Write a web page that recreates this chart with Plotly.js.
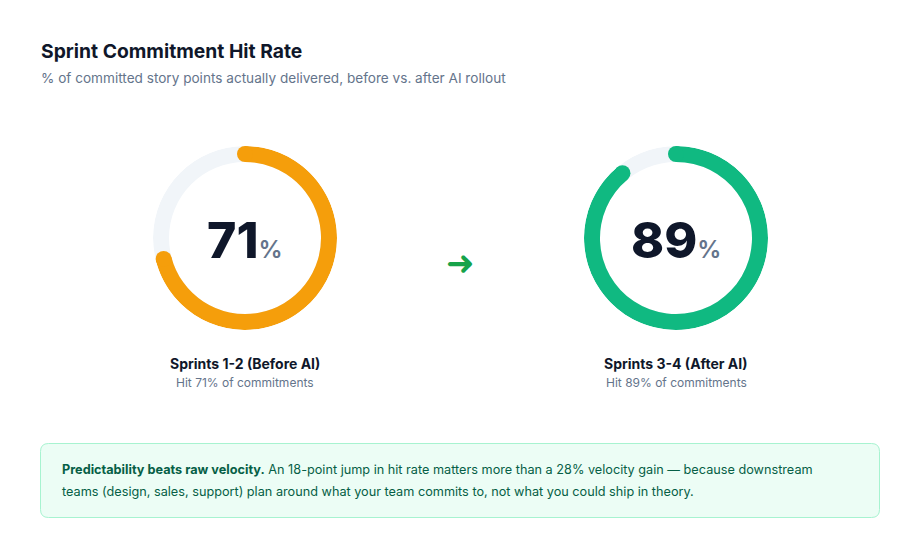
<!DOCTYPE html>
<html>
<head>
<meta charset="utf-8">
<script src="https://cdn.plot.ly/plotly-3.0.1.min.js"></script>
<style>
html,body{margin:0;padding:0;background:#fff;}
#chart{width:920px;height:558px;}
</style>
</head>
<body>
<div id="chart"></div>
<script>
// ---- data ----
const periods = ['Sprints 1-2 (Before AI)', 'Sprints 3-4 (After AI)'];
const hitRates = [71, 89];
const arcColors = ['#f59e0b', '#10b981'];
const chartTitle = 'Sprint Commitment Hit Rate';
const chartSubtitle = '% of committed story points actually delivered, before vs. after AI rollout';
const calloutBold = 'Predictability beats raw velocity.';
const calloutLine1 = ' An 18-point jump in hit rate matters more than a 28% velocity gain \u2014 because downstream';
const calloutLine2 = 'teams (design, sales, support) plan around what your team commits to, not what you could ship in theory.';

// ---- layout helpers ----
const W = 920, H = 558;
const X = px => px / W;
const Y = py => 1 - py / H;
const FONT = 'Inter, "Open Sans", sans-serif';
const TRACK = '#f1f5f9';
const centersX = [245, 676];
const centerY = 238;
const R = 92;
const HOLE = 76 / 92;
const midR = (1 + HOLE) / 2;

const data = [];
const annotations = [];
const layout = {
  width: W, height: H,
  margin: {l: 0, r: 0, t: 0, b: 0},
  paper_bgcolor: '#ffffff',
  plot_bgcolor: '#ffffff',
  showlegend: false,
  font: {family: FONT},
  shapes: [],
  annotations: annotations
};

hitRates.forEach((v, i) => {
  const cx = centersX[i];
  const dom = {x: [X(cx - R), X(cx + R)], y: [Y(centerY + R), Y(centerY - R)]};
  const pname = i === 0 ? 'polar' : 'polar' + (i + 1);
  layout[pname] = {
    domain: dom,
    bgcolor: 'rgba(0,0,0,0)',
    radialaxis: {visible: false, range: [0, 1]},
    angularaxis: {visible: false, rotation: 90, direction: 'clockwise'}
  };
  // background track (full ring)
  data.push({
    type: 'barpolar', subplot: pname,
    r: [1 - HOLE], base: [HOLE], theta: [180], width: [360],
    marker: {color: TRACK, line: {width: 0}},
    hoverinfo: 'skip'
  });
  // value arc
  data.push({
    type: 'barpolar', subplot: pname,
    r: [1 - HOLE], base: [HOLE], theta: [v * 3.6 / 2], width: [v * 3.6],
    marker: {color: arcColors[i], line: {width: 0}},
    hoverinfo: 'skip'
  });
  // rounded caps
  data.push({
    type: 'scatterpolar', subplot: pname,
    mode: 'markers',
    r: [midR, midR],
    theta: [0, v * 3.6],
    marker: {size: 16, color: arcColors[i], line: {width: 0}},
    hoverinfo: 'skip'
  });
  annotations.push({
    xref: 'paper', yref: 'paper', x: X(cx), y: Y(centerY + 2),
    xanchor: 'center', yanchor: 'middle', showarrow: false,
    text: v + '<span style="font-size:24px;color:#64748b;font-weight:600">%</span>',
    font: {family: FONT, size: 50, color: '#0f172a', weight: 800}
  });
  annotations.push({
    xref: 'paper', yref: 'paper', x: X(cx), y: Y(363),
    xanchor: 'center', yanchor: 'middle', showarrow: false,
    text: periods[i],
    font: {family: FONT, size: 14, color: '#0f172a', weight: 700}
  });
  annotations.push({
    xref: 'paper', yref: 'paper', x: X(cx), y: Y(382),
    xanchor: 'center', yanchor: 'middle', showarrow: false,
    text: 'Hit ' + v + '% of commitments',
    font: {family: FONT, size: 12, color: '#64748b'}
  });
});

// title & subtitle
annotations.push({
  xref: 'paper', yref: 'paper', x: X(38.5), y: Y(51),
  xanchor: 'left', yanchor: 'middle', showarrow: false,
  text: chartTitle,
  font: {family: FONT, size: 19.3, color: '#0f172a', weight: 700}
});
annotations.push({
  xref: 'paper', yref: 'paper', x: X(39), y: Y(78),
  xanchor: 'left', yanchor: 'middle', showarrow: false,
  text: chartSubtitle,
  font: {family: FONT, size: 13.6, color: '#64748b'}
});

// arrow
annotations.push({
  xref: 'paper', yref: 'paper', x: X(460), y: Y(263),
  xanchor: 'center', yanchor: 'middle', showarrow: false,
  text: '\u279C',
  font: {family: '"DejaVu Sans", sans-serif', size: 34, color: '#16a34a'}
});

// callout box
const bx0 = 40.5, bx1 = 879.5, by0 = 443.5, by1 = 517.5, rr = 8;
const path = 'M' + X(bx0 + rr) + ',' + Y(by0) +
  ' L' + X(bx1 - rr) + ',' + Y(by0) +
  ' Q' + X(bx1) + ',' + Y(by0) + ' ' + X(bx1) + ',' + Y(by0 + rr) +
  ' L' + X(bx1) + ',' + Y(by1 - rr) +
  ' Q' + X(bx1) + ',' + Y(by1) + ' ' + X(bx1 - rr) + ',' + Y(by1) +
  ' L' + X(bx0 + rr) + ',' + Y(by1) +
  ' Q' + X(bx0) + ',' + Y(by1) + ' ' + X(bx0) + ',' + Y(by1 - rr) +
  ' L' + X(bx0) + ',' + Y(by0 + rr) +
  ' Q' + X(bx0) + ',' + Y(by0) + ' ' + X(bx0 + rr) + ',' + Y(by0) + ' Z';
layout.shapes.push({
  type: 'path', xref: 'paper', yref: 'paper', path: path,
  fillcolor: '#ecfdf5', line: {color: '#a7f3d0', width: 1}, layer: 'below'
});
annotations.push({
  xref: 'paper', yref: 'paper', x: X(60), y: Y(469),
  xanchor: 'left', yanchor: 'middle', showarrow: false,
  text: '<b>' + calloutBold + '</b>' + calloutLine1,
  font: {family: FONT, size: 12.7, color: '#065f46'}
});
annotations.push({
  xref: 'paper', yref: 'paper', x: X(60), y: Y(491),
  xanchor: 'left', yanchor: 'middle', showarrow: false,
  text: calloutLine2,
  font: {family: FONT, size: 12.7, color: '#065f46'}
});

Plotly.newPlot('chart', data, layout, {staticPlot: true, displayModeBar: false});
</script>
</body>
</html>
